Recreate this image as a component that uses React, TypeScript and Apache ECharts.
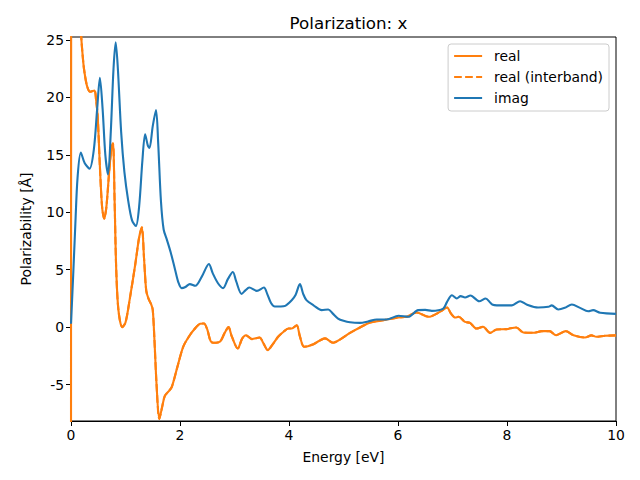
import React, { useEffect, useRef } from "react";
import * as echarts from "echarts";

const chartTitle = "Polarization: x";
const xTicks = [0, 2, 4, 6, 8, 10];
const yTicks = [-5, 0, 5, 10, 15, 20, 25];
const seriesNames = ["real", "real (interband)", "imag"];

const realPoints: [number, number][] = [
  [0, -60], [0.005, 60], [0.1, 40], [0.18, 26], [0.226, 23], [0.26, 21.8], [0.3, 20.9], [0.35, 20.5],
  [0.43, 20.6], [0.46, 19.8], [0.49, 18.3], [0.53, 14], [0.57, 10.5], [0.61, 9.45], [0.65, 10.5],
  [0.7, 13.5], [0.74, 15.5], [0.77, 16.0], [0.8, 11], [0.83, 5], [0.87, 1.5], [0.94, 0], [1.0, 0.4],
  [1.08, 2.5], [1.18, 5.5], [1.25, 7.8], [1.3, 8.7], [1.34, 6], [1.38, 3.2], [1.42, 2.5], [1.47, 2.0],
  [1.5, 1.5], [1.53, -1], [1.57, -5], [1.62, -8.0], [1.67, -7.0], [1.72, -6.0], [1.79, -5.6], [1.85, -5.2],
  [1.95, -3.5], [2.06, -1.7], [2.18, -0.7], [2.26, -0.2], [2.37, 0.3], [2.44, 0.32], [2.5, -0.2],
  [2.56, -1.2], [2.61, -1.36], [2.73, -1.27], [2.82, -0.5], [2.89, 0], [2.95, -0.8], [3.06, -1.86],
  [3.14, -1.0], [3.21, -0.7], [3.32, -1.04], [3.46, -0.9], [3.53, -1.4], [3.61, -2.0], [3.7, -1.5],
  [3.8, -0.84], [3.9, -0.4], [3.99, -0.12], [4.05, -0.12], [4.14, 0.17], [4.2, -0.8], [4.28, -1.71],
  [4.45, -1.48], [4.55, -1.2], [4.66, -0.98], [4.81, -1.36], [4.94, -1.07], [5.12, -0.5], [5.21, -0.26],
  [5.49, 0.4], [5.73, 0.6], [6.01, 0.84], [6.16, 0.9], [6.34, 1.28], [6.56, 0.9], [6.77, 1.33],
  [6.9, 1.71], [6.97, 1.2], [7.05, 0.84], [7.11, 0.9], [7.23, 0.46], [7.32, 0.37], [7.44, -0.12],
  [7.56, 0.03], [7.69, -0.5], [7.81, -0.2], [7.99, -0.17], [8.17, -0.03], [8.3, -0.46], [8.49, -0.49],
  [8.64, -0.35], [8.78, -0.35], [8.9, -0.7], [9.08, -0.35], [9.22, -0.7], [9.43, -0.9], [9.55, -0.72],
  [9.64, -0.84], [9.8, -0.75], [10, -0.72],
];

const interbandPoints: [number, number][] = realPoints.slice(2);

const imagPoints: [number, number][] = [
  [0, 0.3], [0.04, 4.5], [0.08, 9], [0.12, 13], [0.18, 15.2], [0.25, 14.3], [0.34, 13.8], [0.42, 15.5],
  [0.48, 19], [0.53, 21.7], [0.58, 19], [0.63, 15], [0.68, 13.3], [0.73, 17], [0.78, 22.5], [0.82, 24.8],
  [0.86, 22.5], [0.92, 17], [0.98, 13.5], [1.05, 11], [1.12, 9.3], [1.19, 8.8], [1.25, 10.5], [1.31, 14.5],
  [1.36, 16.8], [1.41, 15.8], [1.44, 15.6], [1.5, 17.5], [1.56, 18.9], [1.6, 16], [1.65, 11], [1.7, 8.5],
  [1.76, 7.6], [1.83, 6.5], [1.91, 5.0], [1.97, 3.9], [2.03, 3.4], [2.1, 3.5], [2.18, 3.75], [2.28, 3.6],
  [2.4, 4.4], [2.53, 5.5], [2.6, 4.7], [2.7, 3.8], [2.79, 3.4], [2.88, 4.2], [2.97, 4.8], [3.03, 4.0],
  [3.13, 2.9], [3.2, 3.2], [3.27, 3.45], [3.41, 3.16], [3.54, 3.45], [3.6, 2.9], [3.67, 2.1], [3.74, 1.8],
  [3.85, 1.8], [3.93, 1.85], [4.05, 2.35], [4.12, 2.8], [4.2, 3.75], [4.26, 2.9], [4.32, 2.35], [4.45, 1.9],
  [4.6, 1.48], [4.72, 1.54], [4.8, 1.2], [4.9, 0.75], [5.0, 0.55], [5.12, 0.42], [5.3, 0.37], [5.45, 0.5],
  [5.61, 0.67], [5.79, 0.67], [6.01, 0.99], [6.19, 0.9], [6.37, 1.48], [6.5, 1.5], [6.62, 1.42],
  [6.83, 1.62], [6.9, 2.2], [6.99, 2.78], [7.08, 2.5], [7.15, 2.7], [7.23, 2.58], [7.33, 2.75],
  [7.49, 2.26], [7.61, 2.5], [7.69, 2.15], [7.74, 1.95], [7.81, 1.9], [8.09, 1.9], [8.24, 2.26],
  [8.36, 1.97], [8.57, 1.71], [8.76, 1.77], [8.82, 1.9], [8.94, 1.54], [9.06, 1.68], [9.19, 1.97],
  [9.34, 1.68], [9.49, 1.39], [9.58, 1.48], [9.71, 1.25], [10, 1.16],
];

const ORANGE = "#ff7f0e";
const BLUE = "#1f77b4";
const FONT = "DejaVu Sans";

export default function App() {
  const ref = useRef<HTMLDivElement>(null);
  useEffect(() => {
    if (!ref.current) return;
    const chart = echarts.init(ref.current, undefined, { renderer: "svg" });
    const axisText = { color: "#000", fontFamily: FONT, fontSize: 13.9 };
    chart.setOption({
      animation: false,
      backgroundColor: "#fff",
      title: {
        text: chartTitle,
        left: 343.5,
        textAlign: "center",
        top: 9,
        textStyle: { color: "#000", fontFamily: FONT, fontSize: 16.7, fontWeight: "normal" },
      },
      grid: {
        left: 71,
        right: 24,
        top: 37,
        bottom: 59,
        show: true,
        borderColor: "#000",
        borderWidth: 1,
        containLabel: false,
      },
      legend: {
        orient: "vertical",
        right: 31,
        top: 44,
        padding: [5, 6, 6, 5],
        itemGap: 7,
        itemWidth: 28,
        itemHeight: 14,
        backgroundColor: "rgba(255,255,255,0.8)",
        borderColor: "#cccccc",
        borderWidth: 1,
        borderRadius: 3,
        itemStyle: { opacity: 0 },
        textStyle: { ...axisText, padding: [0, 0, 0, 7] },
        data: seriesNames,
      },
      xAxis: {
        type: "value",
        min: 0,
        max: 10,
        interval: 2,
        name: "Energy [eV]",
        nameLocation: "middle",
        nameGap: 29,
        nameTextStyle: axisText,
        axisLine: { show: true, onZero: false, lineStyle: { color: "#000", width: 1 } },
        axisTick: { show: true, inside: false, length: 5, lineStyle: { color: "#000" }, customValues: xTicks },
        axisLabel: { ...axisText, margin: 7, customValues: xTicks },
        splitLine: { show: false },
      },
      yAxis: {
        type: "value",
        min: -8.17,
        max: 25.26,
        name: "Polarizability [Å]",
        nameLocation: "middle",
        nameGap: 38,
        nameTextStyle: axisText,
        axisLine: { show: true, onZero: false, lineStyle: { color: "#000", width: 1 } },
        axisTick: { show: true, inside: false, length: 5, lineStyle: { color: "#000" }, customValues: yTicks },
        axisLabel: { ...axisText, margin: 7, customValues: yTicks },
        splitLine: { show: false },
      },
      series: [
        {
          name: seriesNames[0],
          type: "line",
          data: realPoints,
          showSymbol: false,
          symbol: "none",
          smooth: 0.3,
          clip: true,
          lineStyle: { color: ORANGE, width: 2.1 },
          itemStyle: { color: ORANGE },
        },
        {
          name: seriesNames[1],
          type: "line",
          data: interbandPoints,
          showSymbol: false,
          symbol: "none",
          smooth: 0.3,
          clip: true,
          lineStyle: { color: ORANGE, width: 2.1, type: [7.7, 3.3] },
          itemStyle: { color: ORANGE },
        },
        {
          name: seriesNames[2],
          type: "line",
          data: imagPoints,
          showSymbol: false,
          symbol: "none",
          smooth: 0.3,
          clip: true,
          lineStyle: { color: BLUE, width: 2.1 },
          itemStyle: { color: BLUE },
        },
      ],
    });
    return () => chart.dispose();
  }, []);
  return (
    <div
      ref={ref}
      style={{ position: "fixed", left: 0, top: 0, width: 640, height: 480, background: "#fff" }}
    />
  );
}
